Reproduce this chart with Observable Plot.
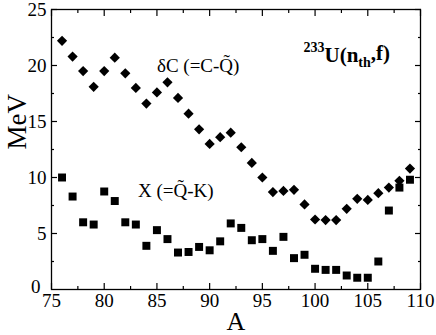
<!DOCTYPE html>
<html>
<head>
<meta charset="utf-8">
<script src="https://cdn.jsdelivr.net/npm/d3@7"></script>
<script src="https://cdn.jsdelivr.net/npm/@observablehq/plot@0.6"></script>
<style>
  html, body { margin: 0; padding: 0; background: #fff; font-family: "Liberation Serif"; }
  svg { display: block; }
</style>
</head>
<body>
<div id="chart"></div>
<script>
// Mass number A
const massA = [76,77,78,79,80,81,82,83,84,85,86,87,88,89,90,91,92,93,94,95,96,97,98,99,100,101,102,103,104,105,106,107,108,109];
// deltaC (=C - Q~), MeV  (diamonds)
const deltaC = [22.2,20.8,19.5,18.1,19.5,20.7,19.3,18.0,16.6,17.6,18.5,17.1,15.7,14.3,13.0,13.6,14.0,12.7,11.3,10.0,8.7,8.8,8.9,7.6,6.25,6.2,6.2,7.2,8.1,8.0,8.6,9.1,9.7,10.8];
// X (=Q~ - K), MeV  (squares)
const xVal = [10.0,8.3,6.0,5.8,8.75,7.9,6.0,5.8,3.9,5.3,4.5,3.3,3.35,3.8,3.5,4.3,5.9,5.5,4.4,4.5,3.45,4.7,2.8,3.1,1.85,1.75,1.75,1.25,1.05,1.05,2.5,7.05,9.1,9.8];

const xMajor = [75,80,85,90,95,100,105,110];
const xMinor = [77.5,82.5,87.5,92.5,97.5,102.5,107.5];
const yMajor = [5,10,15,20,25];
const yZero = [0];
const yMinor = [2.5,7.5,12.5,17.5,22.5];

const dcData = massA.map((a, i) => ({A: a, v: deltaC[i]}));
const xData = massA.map((a, i) => ({A: a, v: xVal[i]}));

const annotations = [
  {A: 85.0, v: 19.4, text: "δC (=C-Q\u0303)"},
  {A: 83.2, v: 8.3, text: "X (=Q\u0303-K)"}
];
const titleAnn = [{A: 98.9, v: 20.6, text: "233U(nth,f)"}];

const font = "Liberation Serif";

const plot = Plot.plot({
  width: 436,
  height: 335,
  marginLeft: 51,
  marginRight: 16,
  marginTop: 9,
  marginBottom: 46,
  style: {fontFamily: font, fontSize: "19px"},
  x: {domain: [75, 110], axis: null},
  y: {domain: [0, 25], axis: null},
  marks: [
    // tick marks (inward) on all four sides
    Plot.axisX(xMajor, {anchor: "bottom", tickSize: -6, text: null, label: null, strokeWidth: 1.2}),
    Plot.axisX(xMinor, {anchor: "bottom", tickSize: -3, text: null, label: null, strokeWidth: 1.2}),
    Plot.axisX(xMajor, {anchor: "top", tickSize: -6, text: null, label: null, strokeWidth: 1.2}),
    Plot.axisX(xMinor, {anchor: "top", tickSize: -3, text: null, label: null, strokeWidth: 1.2}),
    Plot.axisY(yMajor, {anchor: "left", tickSize: -6, text: null, label: null, strokeWidth: 1.2}),
    Plot.axisY(yMinor, {anchor: "left", tickSize: -3, text: null, label: null, strokeWidth: 1.2}),
    Plot.axisY(yMajor, {anchor: "right", tickSize: -6, text: null, label: null, strokeWidth: 1.2}),
    Plot.axisY(yMinor, {anchor: "right", tickSize: -3, text: null, label: null, strokeWidth: 1.2}),
    // tick labels
    Plot.axisX(xMajor, {anchor: "bottom", tickSize: 0, tickPadding: 4, label: null, fontSize: 19}),
    Plot.axisY(yMajor, {anchor: "left", tickSize: 0, tickPadding: 5, label: null, fontSize: 19}),
    Plot.axisY(yZero, {anchor: "left", tickSize: 0, tickPadding: 11, dy: -3, label: null, fontSize: 19}),
    Plot.frame({stroke: "black", strokeWidth: 1.3}),
    // data
    Plot.dot(dcData, {x: "A", y: "v", symbol: "diamond2", r: 4.6, fill: "black", stroke: "none"}),
    Plot.dot(xData, {x: "A", y: "v", symbol: "square", r: 4.5, fill: "black", stroke: "none"}),
    // annotations
    Plot.text(annotations, {x: "A", y: "v", text: "text", textAnchor: "start", lineAnchor: "bottom", fontSize: 19, fill: "black"}),
    Plot.text(titleAnn, {x: "A", y: "v", text: "text", textAnchor: "start", lineAnchor: "bottom", fontSize: 21, fontWeight: "bold", fill: "black", className: "reaction"}),
    // axis labels
    Plot.text(["MeV"], {frameAnchor: "left", dx: -34, rotate: -90, fontSize: 27, fill: "black", text: d => d}),
    Plot.text(["A"], {frameAnchor: "bottom", dy: 40, lineAnchor: "bottom", fontSize: 26, fill: "black", text: d => d})
  ]
});

// rich formatting for the reaction label: superscript 233, subscript th
d3.select(plot).selectAll(".reaction text").each(function() {
  const t = d3.select(this);
  t.text(null);
  t.append("tspan").attr("font-size", 14).attr("dy", "-0.5em").text("233");
  t.append("tspan").attr("dy", "0.5em").text("U(n");
  t.append("tspan").attr("font-size", 14).attr("dy", "0.35em").text("th");
  t.append("tspan").attr("dy", "-0.35em").text(",f)");
});

// force the serif face on every text node
d3.select(plot).selectAll("g, text, tspan").attr("font-family", font).style("font-family", font);

document.getElementById("chart").appendChild(plot);
</script>
</body>
</html>
